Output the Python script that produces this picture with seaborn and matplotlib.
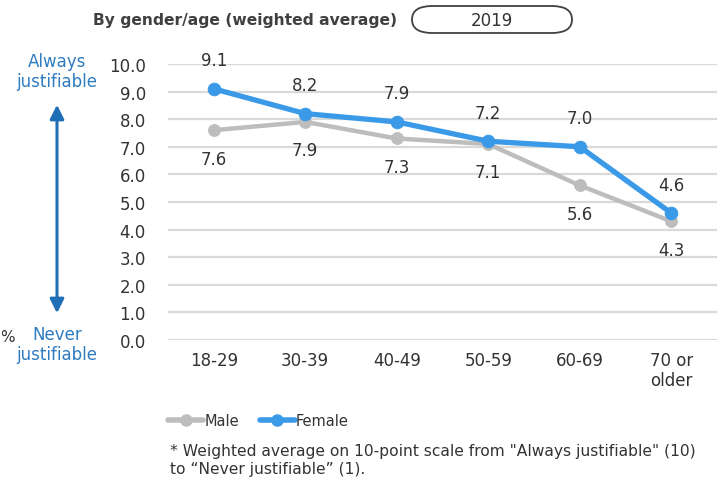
import matplotlib
matplotlib.use("Agg")
import matplotlib.pyplot as plt
import seaborn as sns
import pandas as pd
from matplotlib.lines import Line2D
from matplotlib.patches import FancyBboxPatch

categories = ["18-29", "30-39", "40-49", "50-59", "60-69", "70 or\nolder"]
male = [7.6, 7.9, 7.3, 7.1, 5.6, 4.3]
female = [9.1, 8.2, 7.9, 7.2, 7.0, 4.6]
yticks = [0, 1, 2, 3, 4, 5, 6, 7, 8, 9, 10]

MALE_C = "#BDBDBD"
FEMALE_C = "#3A9AE8"
TXT = "#333333"
BLUE_TXT = "#2E7BC0"

sns.set_theme(style="white")
plt.rcParams['font.family'] = ['DejaVu Sans']

df = pd.DataFrame({
    "pos": list(range(len(categories))) * 2,
    "value": male + female,
    "gender": ["Male"] * len(male) + ["Female"] * len(female),
})

fig = plt.figure(figsize=(7.26, 4.81), dpi=100)
ax = fig.add_axes([0.2314, 0.291, 0.7562, 0.574])

for g, c, lw, ms in [("Male", MALE_C, 3.2, 8.5), ("Female", FEMALE_C, 3.8, 9)]:
    sub = df[df["gender"] == g]
    sns.lineplot(data=sub, x="pos", y="value", color=c, lw=lw, marker="o",
                 markersize=ms, markeredgecolor=c, ax=ax, legend=False, zorder=3)

ax.set_xlim(-0.5, len(categories) - 0.5)
ax.set_ylim(0, 10)
ax.set_yticks(yticks)
ax.set_yticklabels([f"{v:.1f}" for v in yticks], fontsize=12, color=TXT)
ax.set_xticks(range(len(categories)))
ax.set_xticklabels(categories, fontsize=12, color=TXT, linespacing=1.1)
ax.set_xlabel("")
ax.set_ylabel("")
ax.grid(axis="y", color="#D9D9D9", lw=1.6)
ax.grid(axis="x", visible=False)
for s in ax.spines.values():
    s.set_visible(False)
ax.tick_params(axis="y", length=0, pad=16)
ax.tick_params(axis="x", length=0, pad=8)

for i, (m, f) in enumerate(zip(male, female)):
    ax.annotate(f"{f:.1f}", (i, f), xytext=(0, 14), textcoords="offset points",
                ha="center", va="bottom", fontsize=12, color=TXT)
    ax.annotate(f"{m:.1f}", (i, m), xytext=(0, -14), textcoords="offset points",
                ha="center", va="top", fontsize=12, color=TXT)

# title and year box
fig.text(93 / 726, 1 - 20 / 481, "By gender/age (weighted average)", fontsize=11.2,
         fontweight="bold", color="#404040", ha="left", va="center")
box = FancyBboxPatch((412 / 726, 1 - 34 / 481), 160 / 726, 27 / 481,
                     boxstyle="round,pad=0,rounding_size=0.028",
                     transform=fig.transFigure, fc="white", ec="#404040", lw=1.3)
fig.patches.append(box)
fig.text(492 / 726, 1 - 20.5 / 481, "2019", fontsize=12, color=TXT,
         ha="center", va="center")

# left annotations
fig.text(57 / 726, 1 - 72 / 481, "Always\njustifiable", fontsize=12, color=BLUE_TXT,
         ha="center", va="center", linespacing=1.2)
fig.text(57 / 726, 1 - 345 / 481, "Never\njustifiable", fontsize=12, color=BLUE_TXT,
         ha="center", va="center", linespacing=1.2)
ax.annotate("", xy=(57 / 726, 1 - 103 / 481), xytext=(57 / 726, 1 - 317 / 481),
            xycoords="figure fraction", textcoords="figure fraction",
            arrowprops=dict(arrowstyle="<|-|>,head_length=0.7,head_width=0.35",
                            color="#1F6FB5", lw=2.2))
fig.text(0 / 726, 1 - 338 / 481, "%", fontsize=11, color=TXT, ha="left", va="center")

# legend
handles = [Line2D([], [], color=MALE_C, lw=4, marker="o", markersize=8),
           Line2D([], [], color=FEMALE_C, lw=4, marker="o", markersize=8)]
fig.legend(handles, ["Male", "Female"], loc="center left",
           bbox_to_anchor=(155 / 726, 1 - 422 / 481), ncol=2, frameon=False,
           fontsize=10.5, handlelength=2.4, handletextpad=0.1, columnspacing=1.4,
           labelcolor=TXT)

fig.text(170 / 726, 1 - 461 / 481,
         "* Weighted average on 10-point scale from \"Always justifiable\" (10)\nto \u201cNever justifiable\u201d (1).",
         fontsize=11.2, color=TXT, ha="left", va="center", linespacing=1.25)

fig.savefig("out.png", dpi=100)
